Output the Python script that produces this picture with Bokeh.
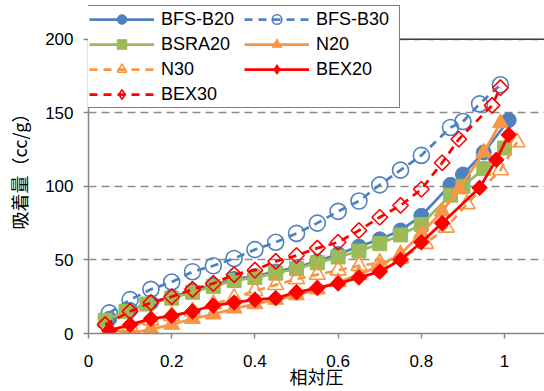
import math
from bokeh.plotting import figure
from bokeh.models import Legend, LegendItem, FixedTicker, Span, Range1d
from bokeh.embed import file_html
from bokeh.resources import INLINE

# ---------------- data ----------------
series_names = ["BFS-B20", "BFS-B30", "BSRA20", "N20", "N30", "BEX20", "BEX30"]

bfs_b20_x = [0.05, 0.10, 0.15, 0.20, 0.25, 0.30, 0.35, 0.40, 0.45, 0.50, 0.55, 0.60, 0.65, 0.70, 0.75, 0.80, 0.87, 0.90, 0.95, 1.01]
bfs_b20_y = [10, 16, 21, 25, 29, 33, 37, 39, 42, 45, 49, 54, 59, 64, 70, 80, 101, 108, 123, 145]

bfs_b30_x = [0.05, 0.10, 0.15, 0.20, 0.25, 0.30, 0.35, 0.40, 0.45, 0.50, 0.55, 0.60, 0.65, 0.70, 0.75, 0.80, 0.87, 0.90, 0.94, 0.99]
bfs_b30_y = [14, 23, 30, 35, 42, 46, 51, 57, 62, 68, 75, 83, 90, 101, 111, 121, 140, 144, 156, 169]

bsra20_x = [0.04, 0.09, 0.14, 0.20, 0.25, 0.30, 0.35, 0.40, 0.45, 0.50, 0.55, 0.60, 0.65, 0.70, 0.75, 0.80, 0.87, 0.90, 0.95, 1.00]
bsra20_y = [9, 15, 20, 24, 28, 32, 36, 38, 41, 44, 48, 52, 56, 61, 67, 74, 94, 100, 112, 126]

n20_x = [0.05, 0.10, 0.15, 0.20, 0.25, 0.30, 0.35, 0.40, 0.45, 0.50, 0.55, 0.60, 0.65, 0.70, 0.75, 0.80, 0.85, 0.89, 0.95, 0.99]
n20_y = [3, 0, 3, 6, 10, 13, 17, 20, 23, 26, 30, 35, 40, 46, 54, 68, 83, 98, 123, 143]

n30_x = [0.05, 0.10, 0.15, 0.20, 0.25, 0.30, 0.35, 0.40, 0.45, 0.50, 0.55, 0.60, 0.65, 0.70, 0.75, 0.81, 0.86, 0.91, 0.99, 1.03]
n30_y = [1, 5, 9, 12, 15, 20, 24, 29, 33, 37, 40, 43, 46, 48, 51, 61, 72, 88, 111, 130]

bex20_x = [0.05, 0.10, 0.15, 0.20, 0.25, 0.30, 0.35, 0.40, 0.45, 0.50, 0.55, 0.60, 0.65, 0.70, 0.75, 0.80, 0.85, 0.94, 0.98, 1.01]
bex20_y = [2, 6, 10, 12, 15, 19, 21, 23, 24, 28, 31, 34, 38, 42, 50, 62, 75, 99, 118, 135]

bex30_x = [0.04, 0.10, 0.15, 0.20, 0.25, 0.30, 0.35, 0.40, 0.45, 0.50, 0.55, 0.60, 0.65, 0.70, 0.75, 0.80, 0.85, 0.89, 0.97, 0.99]
bex30_y = [6, 15, 21, 25, 30, 34, 40, 43, 49, 53, 58, 62, 70, 79, 87, 98, 116, 132, 155, 167]

x_ticks = [0, 0.2, 0.4, 0.6, 0.8, 1.0]
x_tick_labels = ["0", "0.2", "0.4", "0.6", "0.8", "1"]
y_ticks = [0, 50, 100, 150, 200]
y_tick_labels = ["0", "50", "100", "150", "200"]

x_title = "相対圧"
y_title = "吸着量（cc/g）"

series_x = [bfs_b20_x, bfs_b30_x, bsra20_x, n20_x, n30_x, bex20_x, bex30_x]
series_y = [bfs_b20_y, bfs_b30_y, bsra20_y, n20_y, n30_y, bex20_y, bex30_y]

# ---------------- styles ----------------
BLUE, GREEN, ORANGE, RED = "#4F81BD", "#9BBB59", "#F79646", "#FF0000"
styles = [
    dict(color=BLUE, marker="circle", filled=True, dash="solid", size=15, angle=0, legend_marker=None),
    dict(color=BLUE, marker="circle", filled=False, dash="8 6", size=16, angle=0, legend_marker=None),
    dict(color=GREEN, marker="square", filled=True, dash="solid", size=14, angle=0, legend_marker=None),
    dict(color=ORANGE, marker="triangle", filled=True, dash="solid", size=16, angle=0, legend_marker=None),
    dict(color=ORANGE, marker="triangle", filled=False, dash="8 6", size=16, angle=0, legend_marker=None),
    dict(color=RED, marker="square", filled=True, dash="solid", size=11, angle=45, legend_marker="diamond"),
    dict(color=RED, marker="square", filled=False, dash="8 6", size=11, angle=45, legend_marker="diamond"),
]

Y_TOP = 226.26  # frame extends above the 200 line so the legend can sit over it

p = figure(width=544, height=391, output_backend="svg", toolbar_location=None,
           x_range=Range1d(0, 1.096), y_range=Range1d(0, Y_TOP),
           min_border_left=88, min_border_right=0, min_border_top=0, min_border_bottom=55)
p.outline_line_color = None
p.background_fill_color = "white"
p.border_fill_color = "white"

items = []
for name, xs, ys, st in zip(series_names, series_x, series_y, styles):
    ln = p.line(xs, ys, line_color=st["color"], line_width=2.75, line_dash=st["dash"])
    fill = st["color"] if st["filled"] else None
    lw = 1 if st["filled"] else 1.6
    mk = p.scatter(xs, ys, marker=st["marker"], size=st["size"], angle=st["angle"],
                   angle_units="deg", fill_color=fill, line_color=st["color"], line_width=lw)
    leg_r = [ln, mk]
    if st["legend_marker"]:
        # legend-only glyph (a single non-plotted NaN point) so the legend shows a diamond
        proxy = p.scatter(x=[float("nan")], y=[float("nan")], marker=st["legend_marker"],
                          size=st["size"], fill_color=fill, line_color=st["color"], line_width=lw)
        leg_r = [ln, proxy]
    items.append(LegendItem(label=name, renderers=leg_r))

# grid
p.xgrid.visible = False
p.ygrid.ticker = FixedTicker(ticks=y_ticks)
p.ygrid.grid_line_color = "#8c8c8c"
p.ygrid.grid_line_width = 1.5
p.ygrid.grid_line_dash = "8 5"
p.add_layout(Span(location=200, dimension="width", line_color="#404040", line_width=1.5))

# axes
p.xaxis.ticker = FixedTicker(ticks=x_ticks)
p.yaxis.ticker = FixedTicker(ticks=y_ticks)
p.yaxis.bounds = (0, 200)
p.xaxis.major_label_overrides = {t: l for t, l in zip(x_ticks, x_tick_labels)}
p.yaxis.major_label_overrides = {t: l for t, l in zip(y_ticks, y_tick_labels)}
for ax in (p.xaxis, p.yaxis):
    ax.axis_line_color = "#868686"
    ax.axis_line_width = 1.5
    ax.major_tick_line_color = "#868686"
    ax.major_tick_line_width = 1.5
    ax.major_tick_out = 5
    ax.major_tick_in = 0
    ax.minor_tick_line_color = None
    ax.major_label_text_font = "Liberation Sans"
    ax.major_label_text_font_size = "17px"
    ax.major_label_text_color = "black"
    ax.axis_label_text_font = "Noto Sans CJK JP"
    ax.axis_label_text_font_size = "18px"
    ax.axis_label_text_font_style = "normal"
    ax.axis_label_text_color = "black"
p.xaxis.axis_label = x_title
p.yaxis.axis_label = y_title
p.xaxis.major_label_standoff = 16
p.xaxis.axis_label_standoff = -7
p.yaxis.major_label_standoff = 10
p.yaxis.axis_label_standoff = 10

legend = Legend(items=items, location=(-1, 225), orientation="horizontal", ncols=2,
                glyph_width=65, glyph_height=24, label_height=24, label_width=82,
                label_standoff=7, spacing=1, padding=1, margin=0,
                label_text_font="Liberation Sans", label_text_font_size="18px",
                label_text_color="black",
                border_line_color="black", border_line_width=1.5,
                background_fill_color="white", background_fill_alpha=1.0)
p.add_layout(legend, "center")

open("out.html", "w").write(file_html(p, INLINE))
